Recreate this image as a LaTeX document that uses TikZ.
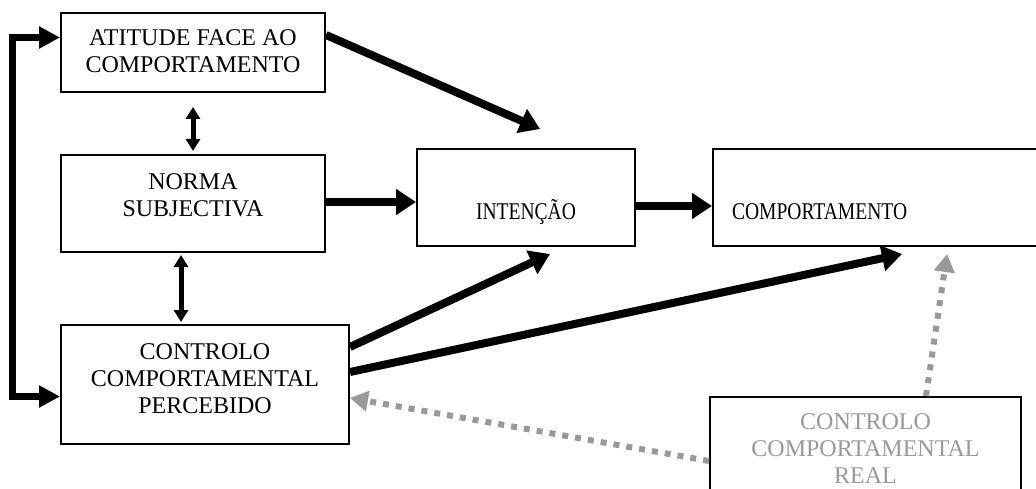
\documentclass[tikz,border=0pt]{standalone}
\usepackage{fontspec}
\setmainfont{Liberation Serif}
\newfontfamily\narrowfont{Liberation Serif}[FakeStretch=0.815]
\usetikzlibrary{arrows.meta,positioning}

\begin{document}
\begin{tikzpicture}[x=1pt,y=-1pt,every node/.style = {shape = rectangle, draw, line width = 2pt, inner sep = 0pt, align = center, font = \fontsize{24}{27}\selectfont},black edge/.style = {-{Triangle[length=20pt,width=25pt]}, line width = 8pt},both edge/.style = {{Triangle[length=12pt,width=14pt]}-{Triangle[length=12pt,width=14pt]}, line width = 5pt},loop edge/.style = {{Triangle[length=21pt,width=21pt]}-{Triangle[length=21pt,width=21pt]}, line width = 7pt},grey edge/.style = {-{Triangle[length=18pt,width=20pt]}, line width = 6pt, black!40, dash pattern = on 6pt off 7pt}]
\useasboundingbox (0,0) rectangle (1036,489);
\node[minimum width=264pt, text height=60pt, text depth=19pt] (0;2) at (193,52.5) {ATITUDE FACE AO \\ COMPORTAMENTO};
  \node[minimum width=264pt, text height=62pt, text depth=35pt] (0;1) at (193,203.5) {NORMA \\ SUBJECTIVA};
  \node[minimum width=288pt, text height=88pt, text depth=31pt] (0;0) at (205,384.5) {CONTROLO \\ COMPORTAMENTAL \\ PERCEBIDO};
  \node[minimum width=218pt, text height=70pt, text depth=27pt, font=\fontsize{24}{27}\narrowfont] (1;1) at (526,197.5) {INTENÇÃO};
  \node[text width=295pt, inner xsep=19pt, align=left, text height=70pt, text depth=27pt, font=\fontsize{24}{27}\narrowfont] (2;1) at (879.5,197.5) {COMPORTAMENTO};
  \node[minimum width=311pt, text height=86pt, text depth=24pt, text=black!40] (2;0) at (865.5,452) {CONTROLO \\ COMPORTAMENTAL \\ REAL};

\draw[loop edge] ([yshift=-12pt]0;0.west) -| ([xshift=-48pt,yshift=15pt]0;2.west) -- ([yshift=15pt]0;2.west);
\draw[both edge, shorten <=14pt, shorten >=3pt] (0;2.south) -- (0;1.north);
\draw[both edge, shorten <=2pt, shorten >=2pt] ([xshift=-12pt]0;1.south) -- ([xshift=-24pt]0;0.north);
\draw[black edge] ([yshift=17.5pt]0;2.east) -- ([xshift=14pt,yshift=19pt]1;1.north);
\draw[black edge] ([yshift=1.5pt]0;1.east) -- ([yshift=1.5pt]0;1.east -| 1;1.west);
\draw[black edge] ([yshift=-8.5pt]1;1.east) -- ([yshift=-8.5pt]1;1.east -| 2;1.west);
\foreach \j/\a/\b in {1/37.5/24,2/12.5/22.5}
  { \draw[black edge] ([yshift=\a pt]0;0.east) -- ([xshift=\b pt,yshift=-7pt]\j;1.south); }
\draw[grey edge] ([yshift=-9pt]2;0.west) -- ([yshift=-13.5pt]0;0.east);
\draw[grey edge] ([xshift=60.5pt]2;0.north) -- ([xshift=67.5pt,yshift=-7pt]2;1.south);

\end{tikzpicture}
\end{document}
